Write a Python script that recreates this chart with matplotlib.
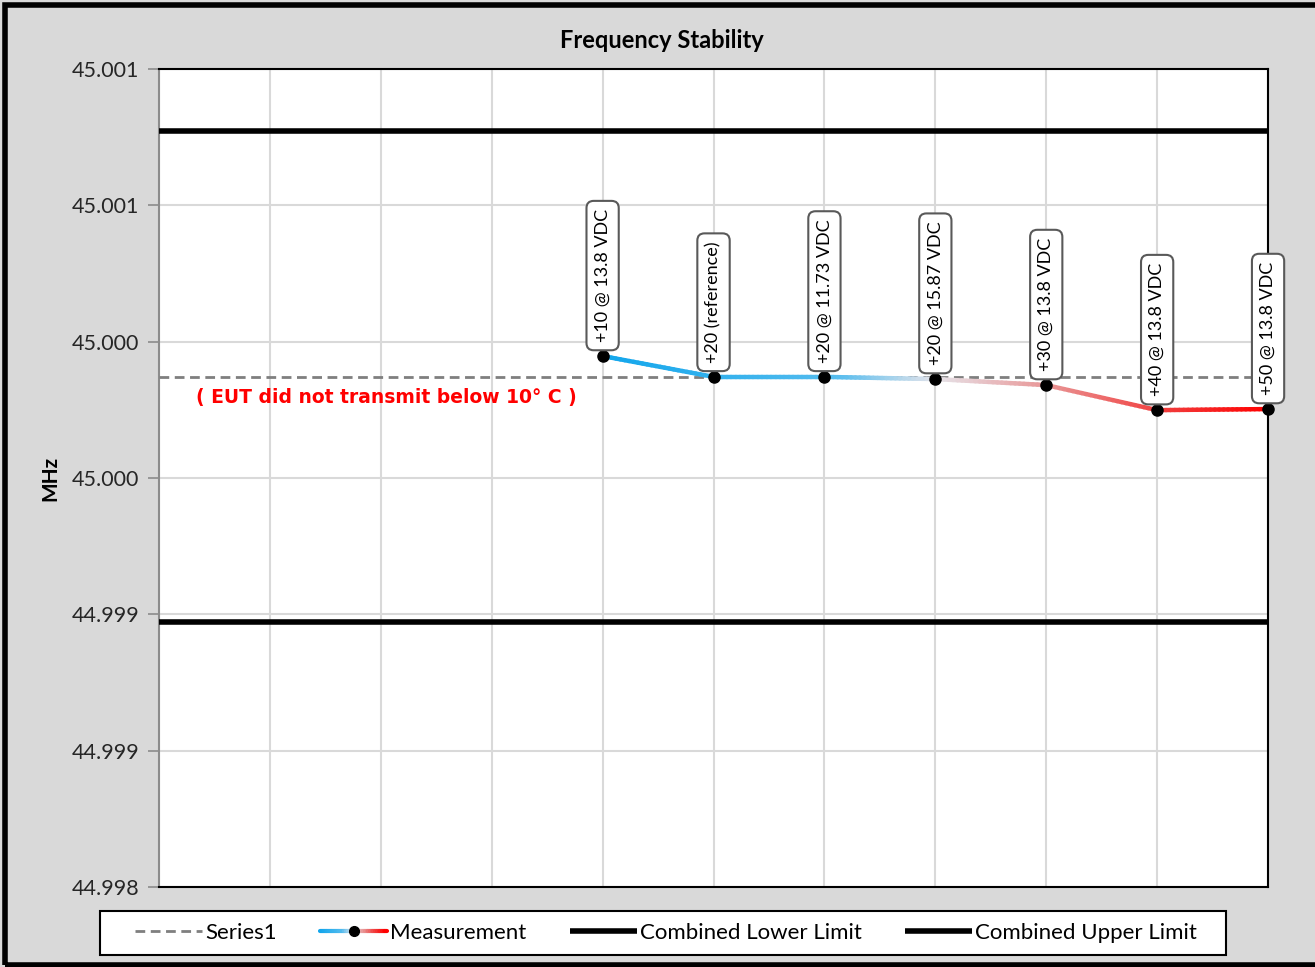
import numpy as np
import matplotlib
matplotlib.use('Agg')
import matplotlib.pyplot as plt
from matplotlib.collections import LineCollection
from matplotlib.colors import LinearSegmentedColormap
from matplotlib.legend_handler import HandlerBase
from matplotlib.lines import Line2D
from matplotlib.patches import Rectangle

plt.rcParams['font.family'] = ['Lato', 'DejaVu Sans']

# data
n_slots = 11                      # category slots on the x axis
first_slot = 4                    # measurements start at the 5th slot
point_labels = ['+10 @ 13.8 VDC', '+20 (reference)', '+20 @ 11.73 VDC',
                '+20 @ 15.87 VDC', '+30 @ 13.8 VDC', '+40 @ 13.8 VDC',
                '+50 @ 13.8 VDC']
measured_mhz = [44.9999475, 44.999871, 44.999871, 44.999863,
                44.999841, 44.999749, 44.999753]
reference_mhz = 44.999871
lower_limit_mhz = 44.998971
upper_limit_mhz = 45.000771
y_ticks = [44.998, 44.9985, 44.999, 44.9995, 45.000, 45.0005, 45.001]
y_tick_labels = ['44.998', '44.999', '44.999', '45.000', '45.000', '45.001', '45.001']

grad = LinearSegmentedColormap.from_list(
    'meas', [(0.0, '#12A6EC'), (0.35, '#55BCEE'), (0.5, '#E6E4EA'),
             (0.68, '#E99090'), (0.85, '#F23A3A'), (1.0, '#FF0000')])


class GradientHandler(HandlerBase):
    def create_artists(self, legend, orig_handle, xdescent, ydescent,
                       width, height, fontsize, trans):
        xs = np.linspace(-xdescent, width - xdescent, 40)
        y = height / 2 - ydescent
        segs = [[(xs[i], y), (xs[i + 1], y)] for i in range(len(xs) - 1)]
        lc = LineCollection(segs, colors=grad(np.linspace(0, 1, len(segs))),
                            linewidth=3, transform=trans, capstyle='round')
        mk = Line2D([width / 2 - xdescent], [y], marker='o', color='black',
                    markersize=7, linestyle='none', transform=trans)
        return [lc, mk]


fig = plt.figure(figsize=(13.15, 9.67), dpi=100, facecolor='#D9D9D9')
ax = fig.add_axes([0.1209, 0.0827, 0.8434, 0.8459])
ax.set_facecolor('white')

x = np.arange(first_slot, first_slot + len(measured_mhz))

# reference line
series1, = ax.plot([0, n_slots - 1], [reference_mhz, reference_mhz],
                   color='#7F7F7F', linestyle=(0, (3.5, 2)), linewidth=2, zorder=3)

# limits
lower, = ax.plot([0, n_slots - 1], [lower_limit_mhz] * 2, color='black',
                 linewidth=4, solid_capstyle='butt', zorder=3)
upper, = ax.plot([0, n_slots - 1], [upper_limit_mhz] * 2, color='black',
                 linewidth=4, solid_capstyle='butt', zorder=3)

# gradient measurement line
fine_x, fine_y = [], []
for i in range(len(x) - 1):
    t = np.linspace(0, 1, 25, endpoint=False)
    fine_x.extend(x[i] + t * (x[i + 1] - x[i]))
    fine_y.extend(measured_mhz[i] + t * (measured_mhz[i + 1] - measured_mhz[i]))
fine_x.append(x[-1])
fine_y.append(measured_mhz[-1])
fine_x = np.array(fine_x)
fine_y = np.array(fine_y)
pts = np.column_stack([fine_x, fine_y]).reshape(-1, 1, 2)
segs = np.concatenate([pts[:-1], pts[1:]], axis=1)
frac = (fine_x[:-1] - x[0]) / (x[-1] - x[0])
lc = LineCollection(segs, colors=grad(frac), linewidth=3.2, zorder=4,
                    capstyle='round')
ax.add_collection(lc)
ax.plot(x, measured_mhz, linestyle='none', marker='o', color='black',
        markersize=8, zorder=5, clip_on=False)

for xi, yi, lab in zip(x, measured_mhz, point_labels):
    ax.annotate(lab, (xi, yi), xytext=(0, 10), textcoords='offset points',
                rotation=90, ha='center', va='bottom', fontsize=13,
                zorder=6, annotation_clip=False,
                bbox=dict(boxstyle='round,pad=0.45,rounding_size=0.4',
                          facecolor='white', edgecolor='#595959', linewidth=1.5))

ax.text(2.05, 44.999797, '( EUT did not transmit below 10° C )', color='#FF0000',
        fontsize=13.5, fontweight='bold', family='DejaVu Sans',
        ha='center', va='center', zorder=6)

ax.set_xlim(0, n_slots - 1)
ax.set_ylim(y_ticks[0], y_ticks[-1])
ax.set_xticks(range(n_slots))
ax.set_xticklabels([])
ax.tick_params(axis='x', length=0)
ax.set_yticks(y_ticks)
ax.set_yticklabels(y_tick_labels, fontsize=15.5, color='#262626')
ax.tick_params(axis='y', length=8, width=1.2, color='#8C8C8C', pad=6)
ax.grid(True, color='#D9D9D9', linewidth=1.5, zorder=0)
ax.set_axisbelow(True)
for side in ['top', 'right', 'bottom']:
    ax.spines[side].set_color('black')
    ax.spines[side].set_linewidth(1.5)
ax.spines['left'].set_color('#8C8C8C')
ax.spines['left'].set_linewidth(1.5)

fig.text(0.503, 0.958, 'Frequency Stability', fontsize=17, fontweight='bold',
         ha='center', va='center')
ax.set_ylabel('MHz', fontsize=15, fontweight='bold', labelpad=8)

# legend box drawn separately so it can be wider than the entries
fig.patches.append(Rectangle((100 / 1315, 1 - 955 / 967), 1126 / 1315, 44 / 967,
                             transform=fig.transFigure, facecolor='white',
                             edgecolor='black', linewidth=1.5))
meas_proxy = Line2D([], [])
leg = fig.legend([series1, meas_proxy, lower, upper],
                 ['Series1', 'Measurement', 'Combined Lower Limit', 'Combined Upper Limit'],
                 handler_map={meas_proxy: GradientHandler()},
                 loc='center', bbox_to_anchor=(0.5067, 0.035), ncol=4,
                 fontsize=16, frameon=False, handlelength=3.0,
                 handletextpad=0.15, columnspacing=1.95, borderpad=0.5)

# outer chart border
fig.patches.append(Rectangle((0.004, 0.002), 1.2, 0.993, transform=fig.transFigure,
                             fill=False, edgecolor='black', linewidth=4))

fig.savefig('out.png', dpi=100, facecolor=fig.get_facecolor())
